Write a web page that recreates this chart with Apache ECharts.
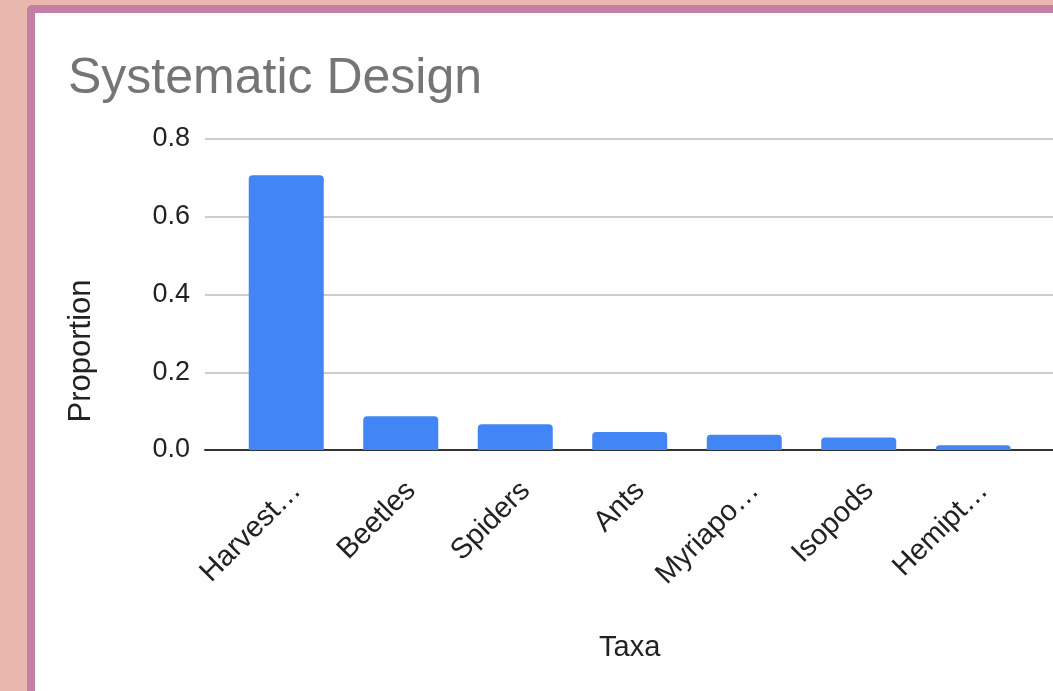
<!DOCTYPE html>
<html>
<head>
<meta charset="utf-8">
<script src="https://cdn.jsdelivr.net/npm/echarts@6/dist/echarts.min.js"></script>
<style>
  html, body { margin: 0; padding: 0; width: 1053px; height: 691px; overflow: hidden; background: #E8B8AF; }
  #card { position: absolute; left: 27px; top: 5px; width: 1100px; height: 800px; background: #ffffff;
          border: 8px solid #C57FA6; border-radius: 5px; box-sizing: border-box; }
  #chart { position: absolute; left: 0; top: 0; width: 1053px; height: 691px; }
</style>
</head>
<body>
<div id="card"></div>
<div id="chart"></div>
<script>
// Taxa and their proportions in the systematic design sample
const taxa = ['Harvest…', 'Beetles', 'Spiders', 'Ants', 'Myriapo…', 'Isopods', 'Hemipt…'];
const proportions = [0.707, 0.087, 0.066, 0.046, 0.039, 0.032, 0.012];
const yTicks = { min: 0, max: 0.8, interval: 0.2 };

const FONT = "'Liberation Sans', Arial, sans-serif";
const plotTop = 139, plotBottom = 691 - 450;

const chart = echarts.init(document.getElementById('chart'), null, { renderer: 'canvas' });
chart.setOption({
  backgroundColor: 'transparent',
  animation: false,
  title: {
    text: 'Systematic Design',
    left: 63, top: 49,
    textStyle: { fontFamily: FONT, fontSize: 50, fontWeight: 'normal', color: '#757575' }
  },
  graphic: [{
    type: 'text',
    x: 81, y: 351,
    rotation: Math.PI / 2,
    style: { text: 'Proportion', fontFamily: FONT, fontSize: 31, fill: '#222222', align: 'center', verticalAlign: 'middle' }
  }],
  grid: [
    // wide grid carrying the value scale, gridlines and baseline
    { left: 205, right: -40, top: plotTop, bottom: plotBottom },
    // grid holding the category bars
    { left: 229, width: 801.5, top: plotTop, bottom: plotBottom }
  ],
  xAxis: [
    { gridIndex: 0, type: 'value', min: 0, max: 1, show: true,
      axisLine: { show: true, lineStyle: { color: '#333333', width: 2 } },
      axisTick: { show: false }, axisLabel: { show: false }, splitLine: { show: false } },
    { gridIndex: 1, type: 'category', data: taxa,
      axisLine: { show: false }, axisTick: { show: false },
      axisLabel: { rotate: 45, interval: 0, margin: 26, verticalAlign: 'top',
                   fontFamily: FONT, fontSize: 29, color: '#222222' },
      name: 'Taxa', nameLocation: 'middle', nameGap: 183,
      nameTextStyle: { fontFamily: FONT, fontSize: 29, color: '#222222' } }
  ],
  yAxis: [
    { gridIndex: 0, type: 'value', min: yTicks.min, max: yTicks.max, interval: yTicks.interval,
      axisLine: { show: false }, axisTick: { show: false },
      axisLabel: { margin: 15, fontFamily: FONT, fontSize: 27, color: '#222222',
                   formatter: v => v.toFixed(1) },
      splitLine: { show: true, lineStyle: { color: '#CCCCCC', width: 2 } } },
    { gridIndex: 1, type: 'value', min: yTicks.min, max: yTicks.max, interval: yTicks.interval,
      show: false, splitLine: { show: false } }
  ],
  series: [{
    type: 'bar',
    xAxisIndex: 1, yAxisIndex: 1,
    data: proportions,
    barWidth: 75,
    itemStyle: { color: '#4285F4', borderRadius: [4, 4, 0, 0] },
    z: 3
  }]
});
</script>
</body>
</html>
